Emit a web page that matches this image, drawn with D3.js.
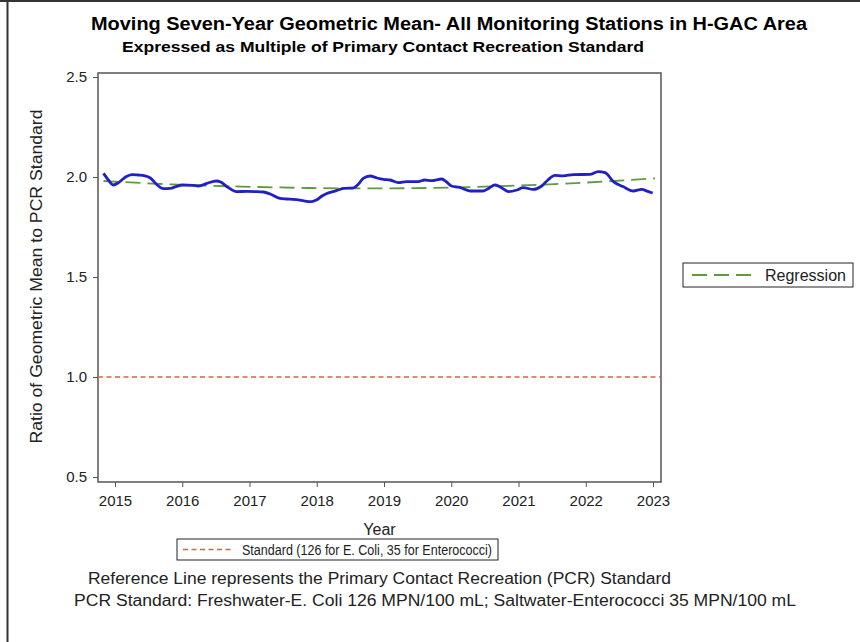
<!DOCTYPE html>
<html>
<head>
<meta charset="utf-8">
<script src="https://cdn.jsdelivr.net/npm/d3@7"></script>
<style>
  body { margin: 0; background: #fff; }
  text { font-family: Arial, "Liberation Sans", sans-serif; fill: #222; }
</style>
</head>
<body>
<div id="chart"></div>
<script>
// moving 7-year geometric mean (decimal year, ratio)
const years = [2014.829, 2014.901, 2014.972, 2015.054, 2015.157, 2015.249, 2015.341, 2015.444, 2015.526, 2015.628,
    2015.720, 2015.823, 2015.905, 2016.007, 2016.161, 2016.243, 2016.366, 2016.509, 2016.571, 2016.673,
    2016.806, 2016.960, 2017.083, 2017.206, 2017.308, 2017.452, 2017.554, 2017.646, 2017.749, 2017.851,
    2017.923, 2017.995, 2018.077, 2018.149, 2018.292, 2018.394, 2018.548, 2018.620, 2018.691, 2018.794,
    2018.896, 2018.989, 2019.091, 2019.214, 2019.337, 2019.511, 2019.603, 2019.706, 2019.860, 2019.931,
    2020.003, 2020.126, 2020.280, 2020.474, 2020.566, 2020.648, 2020.720, 2020.853, 2020.976, 2021.068,
    2021.222, 2021.345, 2021.437, 2021.540, 2021.663, 2021.816, 2022.062, 2022.185, 2022.288, 2022.411,
    2022.554, 2022.708, 2022.831, 2022.923, 2022.995];
const ratio = [2.018, 1.985, 1.960, 1.972, 2.000, 2.012, 2.010, 2.006, 1.995, 1.960,
    1.942, 1.943, 1.952, 1.960, 1.958, 1.955, 1.968, 1.980, 1.975, 1.950,
    1.927, 1.928, 1.927, 1.925, 1.915, 1.893, 1.890, 1.888, 1.884, 1.878,
    1.877, 1.885, 1.905, 1.918, 1.932, 1.943, 1.946, 1.965, 1.993, 2.005,
    1.995, 1.988, 1.985, 1.972, 1.977, 1.977, 1.985, 1.982, 1.990, 1.975,
    1.955, 1.948, 1.930, 1.930, 1.945, 1.960, 1.952, 1.927, 1.935, 1.947,
    1.938, 1.955, 1.985, 2.008, 2.006, 2.012, 2.013, 2.027, 2.022, 1.977,
    1.952, 1.930, 1.938, 1.928, 1.920];

// regression curve, read at a few points along it
const regYears = [2014.83, 2015.85, 2016.88, 2017.90, 2018.93, 2019.95, 2020.98, 2022.00, 2023.03];
const regValues = [1.980, 1.963, 1.952, 1.945, 1.943, 1.947, 1.957, 1.972, 1.993];

const standardValue = 1.0;
const xTicks = [2015, 2016, 2017, 2018, 2019, 2020, 2021, 2022, 2023];
const yTicks = [0.5, 1.0, 1.5, 2.0, 2.5];

const W = 860, H = 642;
const frame = { left: 98, right: 661, top: 73, bottom: 482 };
const font = 'Arial, "Liberation Sans", sans-serif';
const regDash = '15,7', stdDash = '5,3.5';

const x = d3.scaleLinear().domain([2015, 2023]).range([115, 653]);
const y = d3.scaleLinear().domain([0.5, 2.5]).range([477, 77]);

const svg = d3.select('#chart')
    .append('svg')
    .attr('width', W)
    .attr('height', H);

// outer border (top + left, as in the picture)
svg.append('line').attr('x1', 0).attr('x2', W).attr('y1', 1).attr('y2', 1)
    .attr('stroke', '#333').attr('stroke-width', 2);
svg.append('line').attr('x1', 7.5).attr('x2', 7.5).attr('y1', 0).attr('y2', H)
    .attr('stroke', '#333').attr('stroke-width', 2);

// titles
svg.append('text')
    .attr('x', 91).attr('y', 30)
    .attr('textLength', 716).attr('lengthAdjust', 'spacingAndGlyphs')
    .style('font-size', '17.5px').style('font-weight', 'bold').style('fill', '#000')
    .text('Moving Seven-Year Geometric Mean- All Monitoring Stations in H-GAC Area');
svg.append('text')
    .attr('x', 122).attr('y', 52)
    .attr('textLength', 522).attr('lengthAdjust', 'spacingAndGlyphs')
    .style('font-size', '15px').style('font-weight', 'bold').style('fill', '#000')
    .text('Expressed as Multiple of Primary Contact Recreation Standard');

// plot frame
svg.append('rect')
    .attr('x', frame.left).attr('y', frame.top)
    .attr('width', frame.right - frame.left).attr('height', frame.bottom - frame.top)
    .attr('fill', 'none').attr('stroke', '#555').attr('stroke-width', 1.5);

const xAxis = d3.axisBottom(x).tickValues(xTicks).tickFormat(d3.format('d')).tickSize(5).tickSizeOuter(0);
const yAxis = d3.axisLeft(y).tickValues(yTicks).tickFormat(d3.format('.1f')).tickSize(5).tickSizeOuter(0);

const gx = svg.append('g')
    .attr('class', 'axis axis--x')
    .attr('transform', `translate(0,${frame.bottom})`)
    .call(xAxis);
gx.select('.domain').remove();
gx.selectAll('line').attr('stroke', '#555');
gx.selectAll('text').attr('y', 10).attr('dy', '0.95em')
    .style('font-size', '15px').style('font-family', font).attr('fill', '#222');

const gy = svg.append('g')
    .attr('class', 'axis axis--y')
    .attr('transform', `translate(${frame.left},0)`)
    .call(yAxis);
gy.select('.domain').remove();
gy.selectAll('line').attr('stroke', '#555');
gy.selectAll('text').attr('x', -11)
    .style('font-size', '15px').style('font-family', font).attr('fill', '#222');

// axis labels
svg.append('text')
    .attr('transform', `translate(42,${(frame.top + frame.bottom) / 2}) rotate(-90)`)
    .attr('x', -166).attr('textLength', 334).attr('lengthAdjust', 'spacingAndGlyphs')
    .style('font-size', '16px')
    .text('Ratio of Geometric Mean to PCR Standard');
svg.append('text')
    .attr('x', (frame.left + frame.right) / 2).attr('y', 535)
    .style('text-anchor', 'middle').style('font-size', '16px')
    .text('Year');

// reference line
svg.append('line')
    .attr('x1', frame.left).attr('x2', frame.right)
    .attr('y1', y(standardValue)).attr('y2', y(standardValue))
    .attr('stroke', '#d4663f').attr('stroke-width', 1.3)
    .attr('stroke-dasharray', stdDash);

// regression
svg.append('path')
    .datum(regYears.map((d, i) => [d, regValues[i]]))
    .attr('fill', 'none')
    .attr('stroke', '#5e9a40').attr('stroke-width', 1.8)
    .attr('stroke-dasharray', regDash)
    .attr('d', d3.line().x(d => x(d[0])).y(d => y(d[1])).curve(d3.curveNatural));

// moving mean
svg.append('path')
    .datum(years.map((d, i) => [d, ratio[i]]))
    .attr('fill', 'none')
    .attr('stroke', '#2020c6').attr('stroke-width', 2.8)
    .attr('stroke-linejoin', 'round')
    .attr('d', d3.line().x(d => x(d[0])).y(d => y(d[1])).curve(d3.curveMonotoneX));

// right legend
const lg = svg.append('g').attr('transform', 'translate(683,263)');
lg.append('rect').attr('width', 170).attr('height', 24)
    .attr('fill', '#fff').attr('stroke', '#222');
lg.append('line').attr('x1', 9).attr('x2', 68).attr('y1', 12).attr('y2', 12)
    .attr('stroke', '#5e9a40').attr('stroke-width', 1.8).attr('stroke-dasharray', regDash);
lg.append('text').attr('x', 82).attr('y', 18).style('font-size', '16px').text('Regression');

// bottom legend
const lb = svg.append('g').attr('transform', 'translate(177,539)');
lb.append('rect').attr('width', 321).attr('height', 21)
    .attr('fill', '#fff').attr('stroke', '#222');
lb.append('line').attr('x1', 6).attr('x2', 56).attr('y1', 10.5).attr('y2', 10.5)
    .attr('stroke', '#d4663f').attr('stroke-width', 1.3).attr('stroke-dasharray', stdDash);
lb.append('text').attr('x', 65).attr('y', 16)
    .attr('textLength', 250).attr('lengthAdjust', 'spacingAndGlyphs')
    .style('font-size', '15.5px')
    .text('Standard (126 for E. Coli, 35 for Enterococci)');

// footnotes
svg.append('text').attr('x', 88).attr('y', 584)
    .attr('textLength', 583).attr('lengthAdjust', 'spacingAndGlyphs')
    .style('font-size', '16px')
    .text('Reference Line represents the Primary Contact Recreation (PCR) Standard');
svg.append('text').attr('x', 74).attr('y', 606)
    .attr('textLength', 722).attr('lengthAdjust', 'spacingAndGlyphs')
    .style('font-size', '16px')
    .text('PCR Standard: Freshwater-E. Coli 126 MPN/100 mL; Saltwater-Enterococci 35 MPN/100 mL');
</script>
</body>
</html>
